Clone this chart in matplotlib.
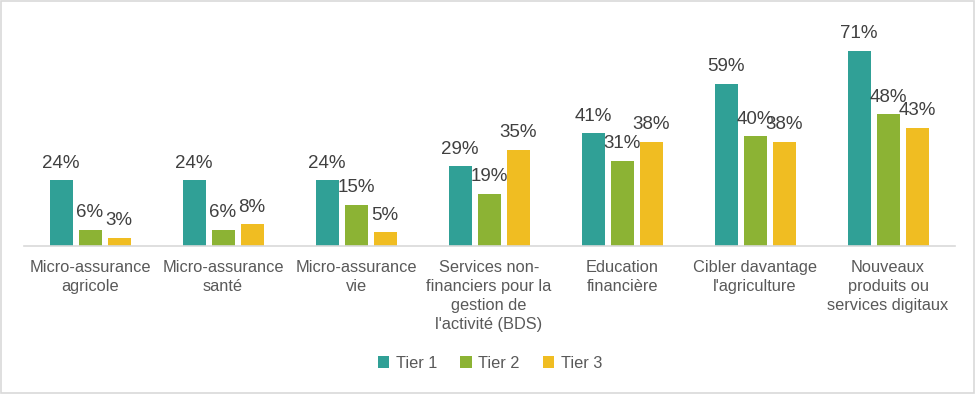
import matplotlib
matplotlib.use("Agg")
import matplotlib.pyplot as plt
import numpy as np
from matplotlib.patches import Rectangle

categories = ["Micro-assurance\nagricole", "Micro-assurance\nsanté", "Micro-assurance\nvie",
              "Services non-\nfinanciers pour la\ngestion de\nl'activité (BDS)",
              "Education\nfinancière", "Cibler davantage\nl'agriculture",
              "Nouveaux\nproduits ou\nservices digitaux"]
series_names = ["Tier 1", "Tier 2", "Tier 3"]
tier1 = [24, 24, 24, 29, 41, 59, 71]
tier2 = [6, 6, 15, 19, 31, 40, 48]
tier3 = [3, 8, 5, 35, 38, 38, 43]
colors = ["#30A096", "#8CB334", "#F0BD22"]

plt.rcParams['font.family'] = ['Liberation Sans', 'DejaVu Sans']

fig = plt.figure(figsize=(9.76, 3.94), dpi=100)
ax = fig.add_axes([0.0241, 0.3756, 0.978 - 0.0241, 0.934 - 0.3756])

x = np.arange(len(categories))
w = 0.173
off = 0.218
for i, (vals, name) in enumerate(zip([tier1, tier2, tier3], series_names)):
    pos = x + (i - 1) * off
    bars = ax.bar(pos, vals, width=w, color=colors[i], label=name, zorder=2)
    for b, v in zip(bars, vals):
        ax.annotate(f"{v}%", (b.get_x() + b.get_width() / 2, v), xytext=(0, 6),
                    textcoords="offset points", ha="center", va="bottom",
                    fontsize=13.5, color="#404040")

ax.set_xlim(-0.5, len(categories) - 0.5)
ax.set_ylim(0, 80)
ax.set_yticks([])
for s in ["top", "right", "left"]:
    ax.spines[s].set_visible(False)
ax.spines["bottom"].set_color("#D9D9D9")
ax.spines["bottom"].set_linewidth(1.2)
ax.set_xticks(x)
ax.set_xticklabels(categories, fontsize=11.8, color="#595959", linespacing=1.34)
ax.tick_params(axis="x", length=0, pad=10)

leg = fig.legend(loc="center", bbox_to_anchor=(0.502, 0.078), ncol=3, frameon=False,
                 fontsize=11.8, handlelength=0.7, handleheight=0.7, handletextpad=0.4,
                 columnspacing=1.4, labelcolor="#595959")

fig.patches.append(Rectangle((0.001, 0.003), 0.997, 0.994, transform=fig.transFigure,
                             fill=False, edgecolor="#D9D9D9", linewidth=1.2))

fig.savefig("out.png", dpi=100)
